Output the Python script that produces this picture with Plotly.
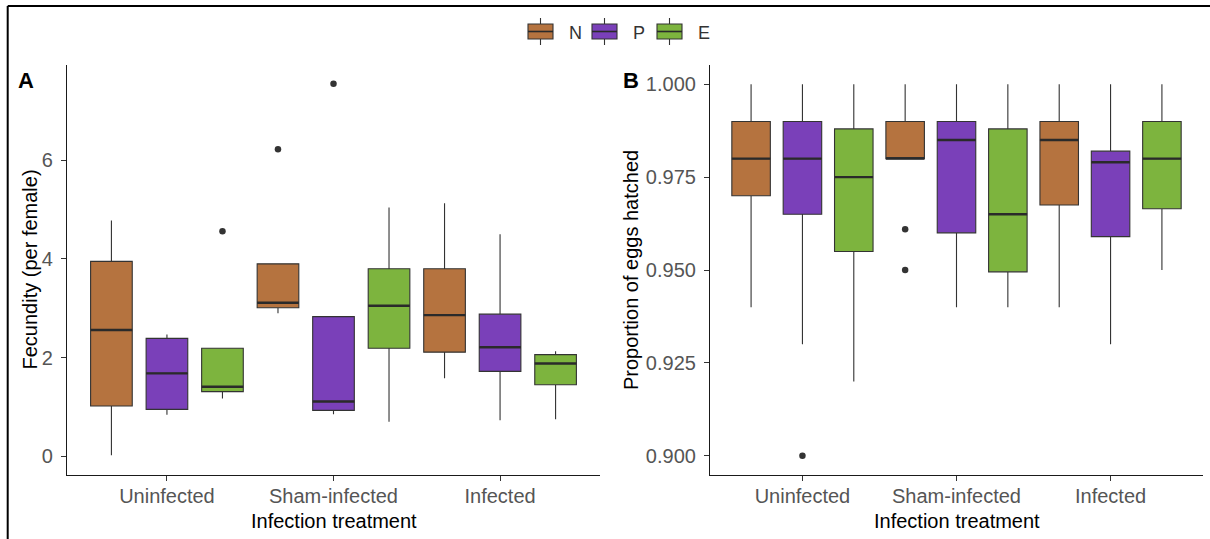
import plotly.graph_objects as go

W, H = 1210, 539
FONT = "Liberation Sans, Arial, sans-serif"

treatments = ["Uninfected", "Sham-infected", "Infected"]
groups = ["N", "P", "E"]
colors = {"N": "#B5733F", "P": "#7A40B9", "E": "#7DB43E"}

# Panel A: fecundity (per female), box statistics per group in treatment order
fec_lower = {"N": [0.02, 2.90, 1.58], "P": [0.84, 0.85, 0.73], "E": [1.17, 0.70, 0.75]}
fec_q1 = {"N": [1.02, 3.01, 2.11], "P": [0.95, 0.93, 1.72], "E": [1.31, 2.19, 1.45]}
fec_median = {"N": [2.56, 3.11, 2.86], "P": [1.68, 1.11, 2.21], "E": [1.41, 3.05, 1.88]}
fec_q3 = {"N": [3.95, 3.90, 3.80], "P": [2.39, 2.83, 2.88], "E": [2.19, 3.80, 2.06]}
fec_upper = {"N": [4.78, 3.90, 5.13], "P": [2.47, 2.83, 4.50], "E": [2.19, 5.04, 2.13]}
fec_outliers = {"N": [[], [6.22], []], "P": [[], [7.55], []], "E": [[4.56], [], []]}

# Panel B: proportion of eggs hatched
hat_lower = {"N": [0.940, 0.980, 0.940], "P": [0.930, 0.940, 0.930], "E": [0.920, 0.940, 0.950]}
hat_q1 = {"N": [0.970, 0.980, 0.9675], "P": [0.965, 0.960, 0.959], "E": [0.955, 0.9495, 0.9665]}
hat_median = {"N": [0.980, 0.980, 0.985], "P": [0.980, 0.985, 0.979], "E": [0.975, 0.965, 0.980]}
hat_q3 = {"N": [0.990, 0.990, 0.990], "P": [0.990, 0.990, 0.982], "E": [0.988, 0.988, 0.990]}
hat_upper = {"N": [1.000, 1.000, 1.000], "P": [1.000, 1.000, 1.000], "E": [1.000, 1.000, 1.000]}
hat_outliers = {"N": [[], [0.961, 0.950], []], "P": [[0.900], [], []], "E": [[], [], []]}

fec_ticks = [0, 2, 4, 6]
hat_ticks = [0.900, 0.925, 0.950, 0.975, 1.000]

BOX_W = 0.25
DODGE = 1 / 3
LINE = "#333333"


def px_x(x):
    return x / W


def px_y(y):
    return 1 - y / H


fig = go.Figure()


def add_panel(xa, ya, lower, q1, med, q3, upper, outliers):
    for gi, g in enumerate(groups):
        pos = [i + (gi - 1) * DODGE for i in range(len(treatments))]
        fig.add_trace(go.Box(
            x=pos, q1=q1[g], median=med[g], q3=q3[g],
            lowerfence=lower[g], upperfence=upper[g],
            width=BOX_W, fillcolor=colors[g],
            line=dict(color=LINE, width=1.1), whiskerwidth=0,
            boxpoints=False, name=g, showlegend=False,
            xaxis=xa, yaxis=ya, hoverinfo="skip",
        ))
        # thicker median bars
        mx, my = [], []
        for p, m in zip(pos, med[g]):
            mx += [p - BOX_W / 2, p + BOX_W / 2, None]
            my += [m, m, None]
        fig.add_trace(go.Scatter(
            x=mx, y=my, mode="lines", line=dict(color="#2A2A2A", width=2.4),
            showlegend=False, xaxis=xa, yaxis=ya, hoverinfo="skip",
        ))
        ox, oy = [], []
        for p, vals in zip(pos, outliers[g]):
            for v in vals:
                ox.append(p)
                oy.append(v)
        if ox:
            fig.add_trace(go.Scatter(
                x=ox, y=oy, mode="markers",
                marker=dict(color=LINE, size=6.5),
                showlegend=False, xaxis=xa, yaxis=ya, hoverinfo="skip",
            ))


add_panel("x", "y", fec_lower, fec_q1, fec_median, fec_q3, fec_upper, fec_outliers)
add_panel("x2", "y2", hat_lower, hat_q1, hat_median, hat_q3, hat_upper, hat_outliers)

ydom = [px_y(475), px_y(65)]
common_x = dict(
    tickvals=list(range(len(treatments))), ticktext=treatments,
    range=[-0.6, 2.6], showline=True, linecolor="#1A1A1A", linewidth=1.2,
    ticks="outside", ticklen=5, tickcolor="#333333", tickwidth=1.1,
    tickfont=dict(family=FONT, size=20, color="#555555"),
    showgrid=False, zeroline=False, automargin=False, fixedrange=True,
    ticklabelstandoff=-2,
)
common_y = dict(
    showline=True, linecolor="#1A1A1A", linewidth=1.2,
    ticks="outside", ticklen=5, tickcolor="#333333", tickwidth=1.1,
    tickfont=dict(family=FONT, size=20, color="#555555"),
    showgrid=False, zeroline=False, automargin=False, fixedrange=True,
    ticklabelstandoff=4, domain=ydom,
)

fig.update_layout(
    width=W, height=H,
    margin=dict(l=0, r=0, t=0, b=0),
    paper_bgcolor="white", plot_bgcolor="white",
    boxmode="overlay", showlegend=False,
    font=dict(family=FONT),
    xaxis=dict(domain=[px_x(67), px_x(600)], anchor="y", **common_x),
    yaxis=dict(anchor="x", range=[-0.38, 7.93], tickvals=fec_ticks,
               ticktext=[str(t) for t in fec_ticks], **common_y),
    xaxis2=dict(domain=[px_x(710), px_x(1203)], anchor="y2", **common_x),
    yaxis2=dict(anchor="x2", range=[0.8948, 1.0052], tickvals=hat_ticks,
                ticktext=[f"{t:.3f}" for t in hat_ticks], **common_y),
)

annotations = []


def label(text, x, y, size=20, color="black", angle=0, bold=False, xanchor="center"):
    annotations.append(dict(
        text=f"<b>{text}</b>" if bold else text,
        x=px_x(x), y=px_y(y), xref="paper", yref="paper",
        xanchor=xanchor, yanchor="middle", showarrow=False, textangle=angle,
        font=dict(family=FONT, size=size, color=color),
    ))


label("Infection treatment", 333.5, 521)
label("Infection treatment", 956.5, 521)
label("Fecundity (per female)", 29.5, 270, angle=-90)
label("Proportion of eggs hatched", 631, 270, angle=-90)
label("A", 26, 80.5, size=22, bold=True)
label("B", 631, 80.5, size=22, bold=True)

# Legend drawn as keys with box glyphs
shapes = []
legend_cx = [540.5, 604.5, 669.5]
for g, cx in zip(groups, legend_cx):
    shapes.append(dict(type="line", xref="paper", yref="paper",
                       x0=px_x(cx), x1=px_x(cx), y0=px_y(18), y1=px_y(45),
                       line=dict(color=LINE, width=1.1)))
    shapes.append(dict(type="rect", xref="paper", yref="paper",
                       x0=px_x(cx - 12.5), x1=px_x(cx + 12.5),
                       y0=px_y(39), y1=px_y(24),
                       fillcolor=colors[g], line=dict(color=LINE, width=1.1)))
    shapes.append(dict(type="line", xref="paper", yref="paper",
                       x0=px_x(cx - 12.5), x1=px_x(cx + 12.5),
                       y0=px_y(31.5), y1=px_y(31.5),
                       line=dict(color="#2A2A2A", width=1.6)))
    label(g, cx + 26, 33, size=18, color="#333333", xanchor="left")

# frame lines along the top and left edges
shapes.append(dict(type="line", xref="paper", yref="paper",
                   x0=px_x(7.7), x1=1, y0=px_y(6), y1=px_y(6),
                   line=dict(color="black", width=2)))
shapes.append(dict(type="line", xref="paper", yref="paper",
                   x0=px_x(7.7), x1=px_x(7.7), y0=px_y(6), y1=0,
                   line=dict(color="black", width=2)))

fig.update_layout(annotations=annotations, shapes=shapes)

fig.write_html("out.html")
